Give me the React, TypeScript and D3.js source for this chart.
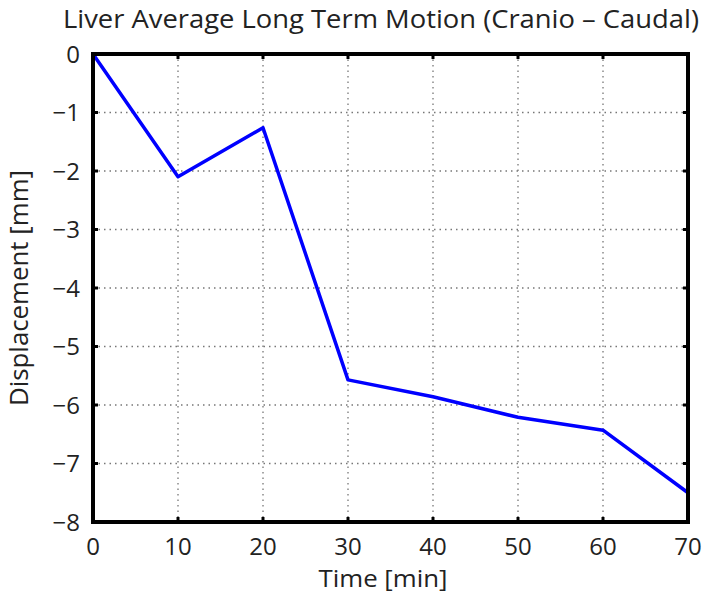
import * as d3 from "d3";

const times = [0, 10, 20, 30, 40, 50, 60, 70];
const displacement = [0, -2.1, -1.26, -5.57, -5.86, -6.21, -6.43, -7.5];
const xTicks = [0, 10, 20, 30, 40, 50, 60, 70];
const yTicks = [0, -1, -2, -3, -4, -5, -6, -7, -8];

const W = 703;
const H = 593;
const margin = { top: 54, right: 15, bottom: 71, left: 93 };
const FONT = "'Open Sans', 'DejaVu Sans', sans-serif";

export default function App() {
  const iw = W - margin.left - margin.right;
  const ih = H - margin.top - margin.bottom;
  const x = d3.scaleLinear().domain([0, 70]).range([0, iw]);
  const y = d3.scaleLinear().domain([-8, 0]).range([ih, 0]);
  const line = d3
    .line<number>()
    .x((_, i) => x(times[i]))
    .y((d) => y(d));

  return (
    <svg
      width={W}
      height={H}
      style={{ position: "absolute", left: 0, top: 0, background: "#fff" }}
    >
      <text
        x={381}
        y={28}
        textAnchor="middle"
        fontFamily={FONT}
        fontSize={25}
        fill="#222"
        textLength={636}
        lengthAdjust="spacingAndGlyphs"
      >
        Liver Average Long Term Motion (Cranio – Caudal)
      </text>
      <g transform={`translate(${margin.left},${margin.top})`}>
        {xTicks.slice(1, -1).map((t) => (
          <line
            key={"gx" + t}
            x1={x(t)}
            x2={x(t)}
            y1={0}
            y2={ih}
            stroke="#777"
            strokeWidth={1.3}
            strokeDasharray="1.5 4"
          />
        ))}
        {yTicks.slice(1, -1).map((t) => (
          <line
            key={"gy" + t}
            x1={0}
            x2={iw}
            y1={y(t)}
            y2={y(t)}
            stroke="#777"
            strokeWidth={1.3}
            strokeDasharray="1.5 4"
          />
        ))}
        {xTicks.map((t) => (
          <g key={"tx" + t}>
            <line x1={x(t)} x2={x(t)} y1={ih} y2={ih - 5} stroke="#000" strokeWidth={3} />
            <line x1={x(t)} x2={x(t)} y1={0} y2={5} stroke="#000" strokeWidth={3} />
            <text
              x={x(t)}
              y={ih + 33}
              textAnchor="middle"
              fontFamily={FONT}
              fontSize={24}
              fill="#222"
            >
              {t}
            </text>
          </g>
        ))}
        {yTicks.map((t) => (
          <g key={"ty" + t}>
            <line x1={0} x2={5} y1={y(t)} y2={y(t)} stroke="#000" strokeWidth={3} />
            <line x1={iw} x2={iw - 5} y1={y(t)} y2={y(t)} stroke="#000" strokeWidth={3} />
            <text
              x={-13}
              y={y(t) + 8.5}
              textAnchor="end"
              fontFamily={FONT}
              fontSize={24}
              fill="#222"
            >
              {t === 0 ? "0" : "−" + Math.abs(t)}
            </text>
          </g>
        ))}
        <path
          d={line(displacement) ?? ""}
          fill="none"
          stroke="#0000ff"
          strokeWidth={3.5}
          strokeLinejoin="round"
        />
        <rect x={0} y={0} width={iw} height={ih} fill="none" stroke="#000" strokeWidth={4} />
      </g>
      <text
        x={383}
        y={587}
        textAnchor="middle"
        fontFamily={FONT}
        fontSize={24}
        fill="#222"
        textLength={129}
        lengthAdjust="spacingAndGlyphs"
      >
        Time [min]
      </text>
      <text
        transform={`translate(28,${margin.top + ih / 2}) rotate(-90)`}
        textAnchor="middle"
        fontFamily={FONT}
        fontSize={25}
        fill="#222"
        textLength={236}
        lengthAdjust="spacingAndGlyphs"
      >
        Displacement [mm]
      </text>
    </svg>
  );
}
